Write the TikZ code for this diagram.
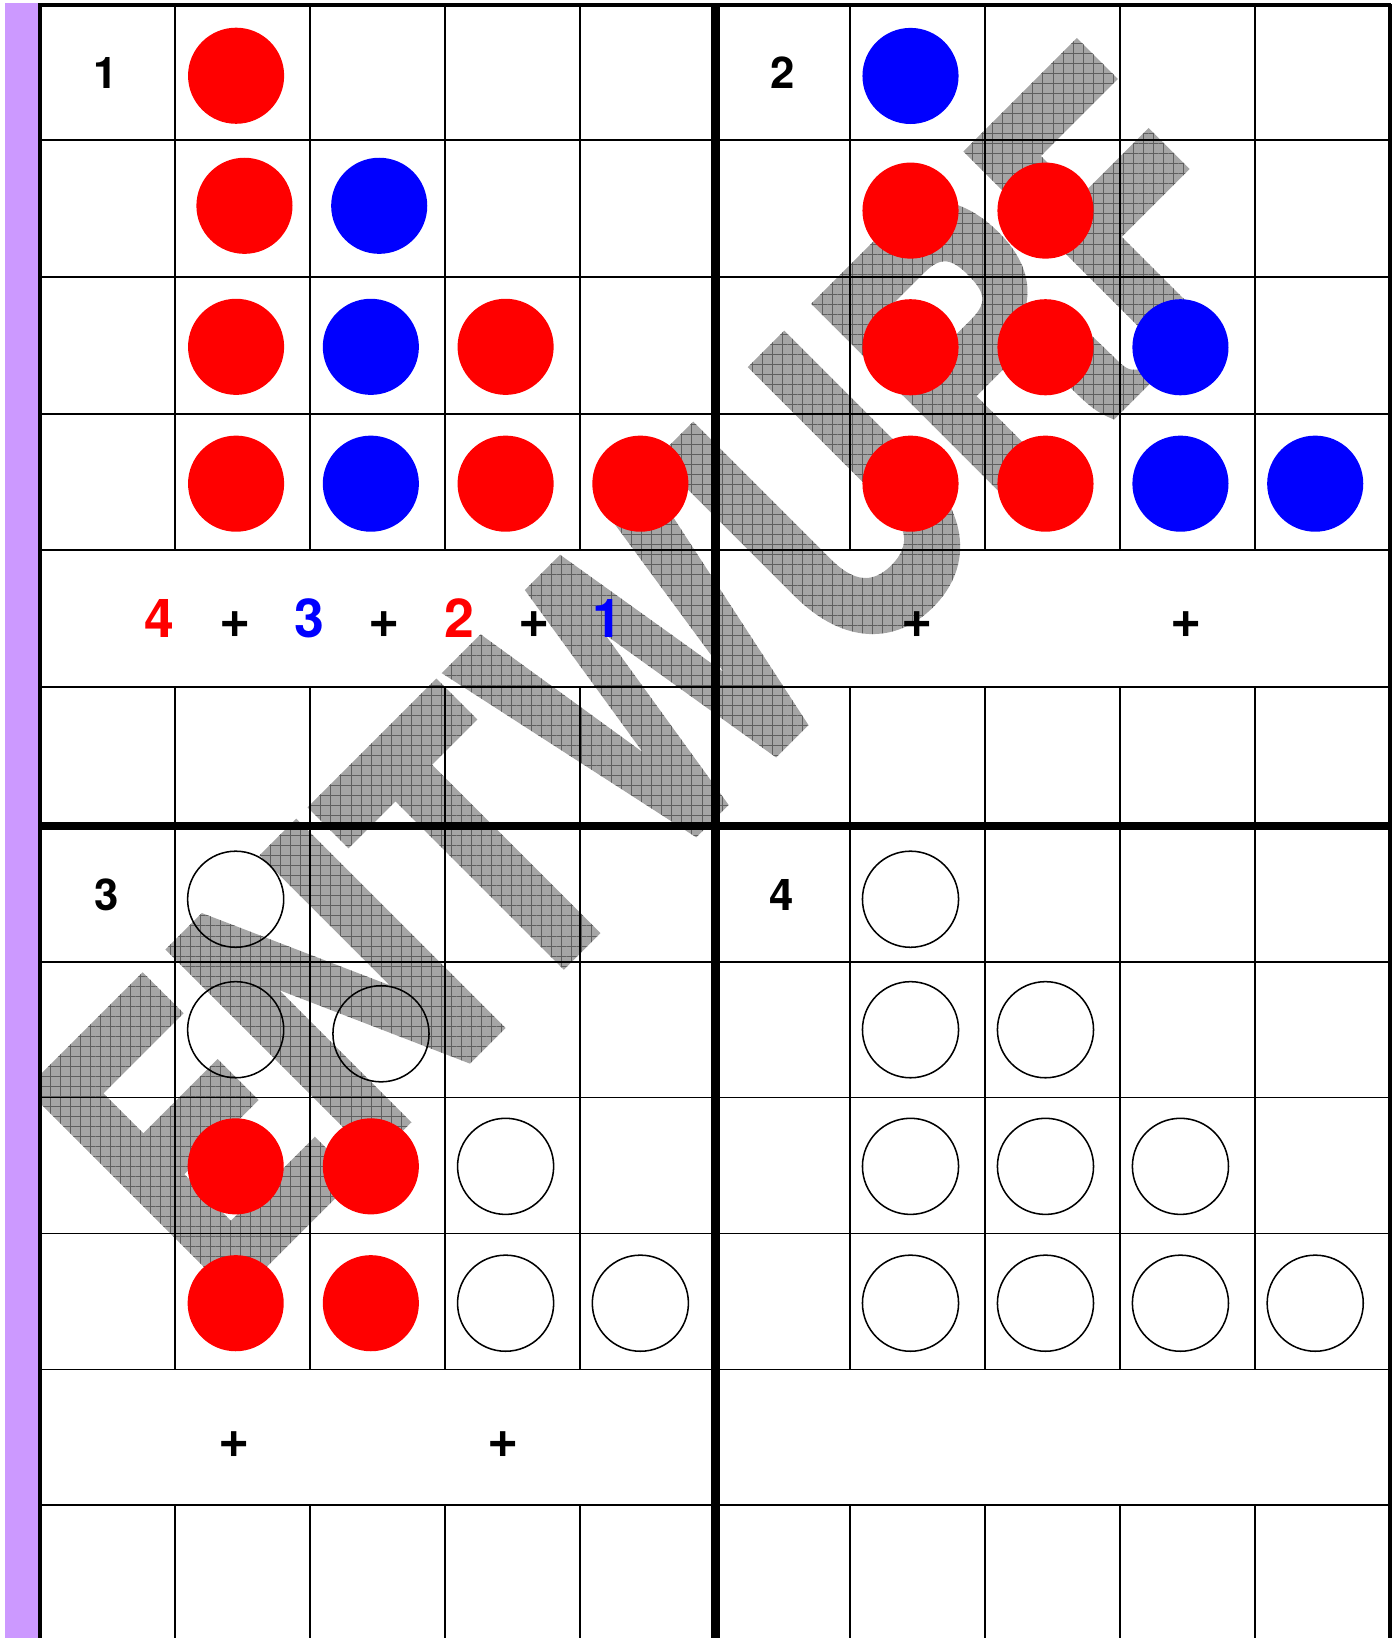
\documentclass[tikz,border=0pt]{standalone}
\usepackage{fontspec}
\usepackage{graphicx}
\usetikzlibrary{fadings,patterns.meta}
\setmainfont{TeX Gyre Heros}
\definecolor{lila}{RGB}{204,153,255}
\definecolor{wmbase}{RGB}{165,165,165}
\definecolor{wmline}{RGB}{95,95,95}
\newcommand\wmword{\fontsize{283}{283}\selectfont\bfseries\addfontfeature{FakeBold=2.2}\scalebox{0.763}[1]{ENTWURF}}
\begin{document}
\pgfdeclarefading{wmfade}{\color{white}\rotatebox{45}{\wmword}}%
\begin{tikzpicture}[x=0.75pt,y=-0.75pt,
  cellline/.style={line width=1.25pt,black},
  outerline/.style={line width=2.8pt,black},
  divider/.style={line width=6.1pt,black},
  disc/.style={circle,minimum size=69pt,inner sep=0pt,outer sep=0pt},
  fulldisc/.style={disc,fill=#1},
  emptydisc/.style={disc,draw=black,line width=1.1pt},
  paneltxt/.style={font=\fontsize{31.4}{31.4}\selectfont\bfseries,inner sep=0pt,anchor=base},
  sumtxt/.style={font=\fontsize{38.5}{38.5}\selectfont\bfseries,inner sep=0pt,anchor=base},
  plustxt/.style={font=\fontsize{38.5}{38.5}\selectfont\bfseries,inner sep=0pt,anchor=center},
  wm/.style={rotate=45,inner sep=0pt,text=wmbase},
  wmfill/.style={path fading=wmfade,fit fading=false,fading transform={shift={(624.2,646.7)}}}
]
\useasboundingbox (0,0) rectangle (1337,1568);

% watermark (ENTWURF): gray letters with a fine grid on them
\node[wm] (wmark) at (624.2,646.7) {\wmword};
\fill[wmfill,pattern={Hatch[angle=0,distance=7.2pt,line width=0.7pt]},pattern color=wmline]
  (0,0) rectangle (1337,1568);

% purple strip
\fill[lila] (4.8,3.2) rectangle (36.3,1568);

% thin grid lines
\foreach \y in {134,265,396,526.5,657.5,920.6,1050.7,1180.8,1310.9,1441}
  \draw[cellline] (38,\y) -- (1330.3,\y);
\foreach \x in {167.6,296.9,426.2,555.5,813.9,943,1072.1,1201.2}{
  \draw[cellline] (\x,4.8) -- (\x,526.5);
  \draw[cellline] (\x,657.5) -- (\x,1310.9);
  \draw[cellline] (\x,1441) -- (\x,1568);
}
% frame
\draw[outerline] (36.6,4.8) -- (1331.7,4.8);
\draw[outerline] (38,3.4) -- (38,1568);
\draw[outerline] (1330.3,3.4) -- (1330.3,1568);
% dividers
\draw[divider] (684.8,4.8) -- (684.8,1568);
\draw[divider] (38,790.5) -- (1330.3,790.5);

% panel 1
\node[fulldisc=red]  (a11) at (226,72.5) {};
\node[fulldisc=red]  (a21) at (234,197) {};
\node[fulldisc=blue] (a22) at (363,197) {};
\node[fulldisc=red]  (a31) at (226,332) {};
\node[fulldisc=blue] (a32) at (355,332) {};
\node[fulldisc=red]  (a33) at (484,332) {};
\node[fulldisc=red]  (a41) at (226,463) {};
\node[fulldisc=blue] (a42) at (355,463) {};
\node[fulldisc=red]  (a43) at (484,463) {};
\node[fulldisc=red]  (a44) at (613,463) {};

% panel 2
\node[fulldisc=blue] (b11) at (871.6,72.7) {};
\node[fulldisc=red]  (b21) at (871.6,201.6) {};
\node[fulldisc=red]  (b22) at (1000.8,201.6) {};
\node[fulldisc=red]  (b31) at (871.6,332.4) {};
\node[fulldisc=red]  (b32) at (1000.8,332.4) {};
\node[fulldisc=blue] (b33) at (1130,332.4) {};
\node[fulldisc=red]  (b41) at (871.6,463) {};
\node[fulldisc=red]  (b42) at (1000.8,463) {};
\node[fulldisc=blue] (b43) at (1130,463) {};
\node[fulldisc=blue] (b44) at (1259,463) {};

% panel 3
\node[emptydisc]     (c11) at (225.6,860.8) {};
\node[emptydisc]     (c21) at (225.6,985.7) {};
\node[emptydisc]     (c22) at (364.7,989.6) {};
\node[fulldisc=red]  (c31) at (225.6,1116.5) {};
\node[fulldisc=red]  (c32) at (355,1116.5) {};
\node[emptydisc]     (c33) at (484,1116.5) {};
\node[fulldisc=red]  (c41) at (225.6,1247.5) {};
\node[fulldisc=red]  (c42) at (355,1247.5) {};
\node[emptydisc]     (c43) at (484,1247.5) {};
\node[emptydisc]     (c44) at (613,1247.5) {};

% panel 4
\node[emptydisc] (d11) at (871.6,860.8) {};
\node[emptydisc] (d21) at (871.6,985.7) {};
\node[emptydisc] (d22) at (1000.8,985.7) {};
\node[emptydisc] (d31) at (871.6,1116.5) {};
\node[emptydisc] (d32) at (1000.8,1116.5) {};
\node[emptydisc] (d33) at (1130,1116.5) {};
\node[emptydisc] (d41) at (871.6,1247.5) {};
\node[emptydisc] (d42) at (1000.8,1247.5) {};
\node[emptydisc] (d43) at (1130,1247.5) {};
\node[emptydisc] (d44) at (1259,1247.5) {};

% panel numbers
\node[paneltxt] (n1) at (101,84.5) {1};
\node[paneltxt] (n2) at (749,84.5) {2};
\node[paneltxt] (n3) at (102.5,872) {3};
\node[paneltxt] (n4) at (748,872) {4};

% sum row panel 1
\node[sumtxt,text=red]  (s1) at (153,609.9) {4};
\node[plustxt]          (p1) at (225,597.7) {+};
\node[sumtxt,text=blue] (s2) at (296,609.9) {3};
\node[plustxt]          (p2) at (368,597.7) {+};
\node[sumtxt,text=red]  (s3) at (440.2,609.9) {2};
\node[plustxt]          (p3) at (511,597.7) {+};
\node[sumtxt,text=blue] (s4) at (581.6,609.9) {1};
% sum row panel 2
\node[plustxt] (p4) at (878,597.7) {+};
\node[plustxt] (p5) at (1135,597.7) {+};
% sum row panel 3
\node[plustxt] (p6) at (224,1383) {+};
\node[plustxt] (p7) at (482,1383) {+};
\end{tikzpicture}
\end{document}
